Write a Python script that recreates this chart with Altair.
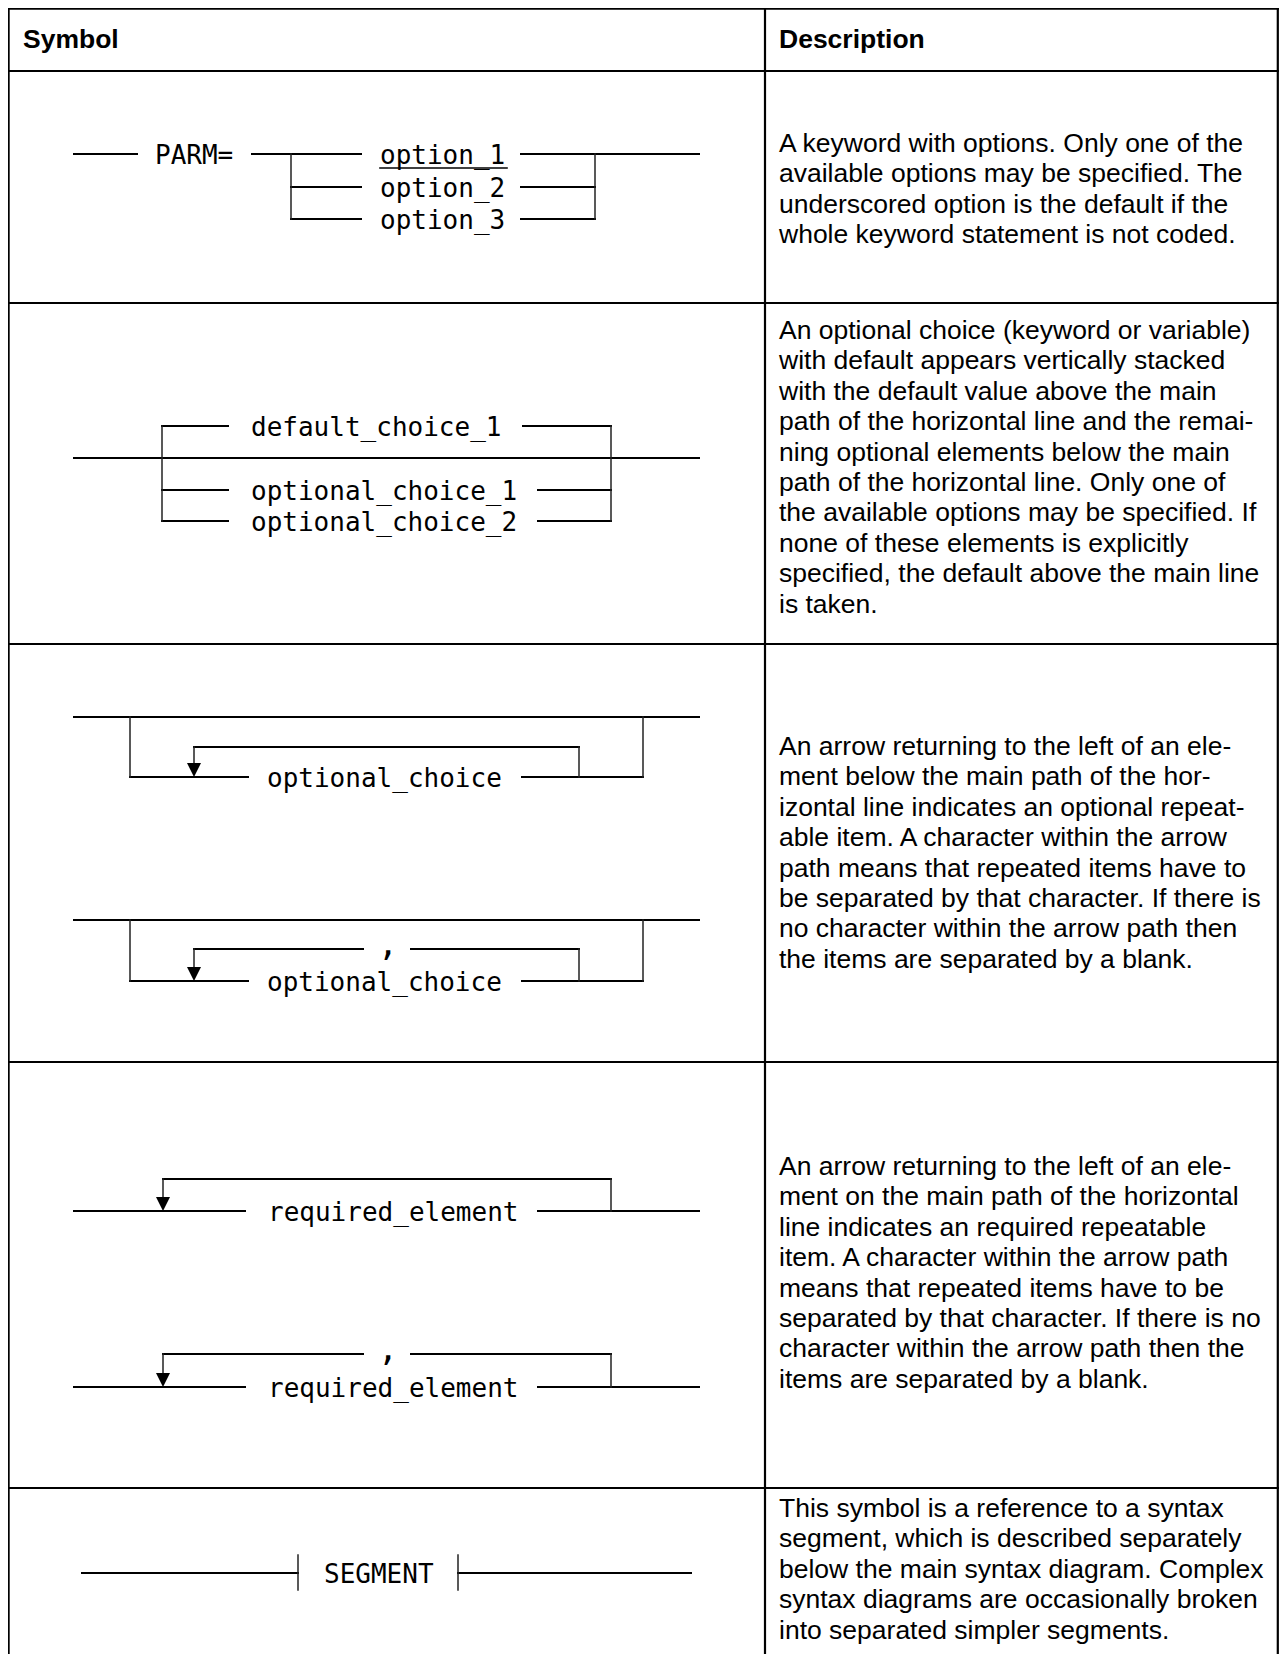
import altair as alt
import pandas as pd

W, H = 1271, 1646

# ---------------- table frame ----------------
TABLE_X = [8.6, 765, 1277.8]        # left border, column divider, right border
TABLE_TOP = 8.6
ROW_LINES = [8.6, 71, 303, 644, 1062, 1488]
HEADERS = [(23, "Symbol"), (779, "Description")]
HEADER_BASELINE = 48

# ---------------- syntax diagram paths ----------------
# horizontal path lines: (x1, x2, y)
PATH_H = [
    # PARM= option_1/2/3
    (74, 137, 154), (252, 361, 154), (291, 361, 187), (291, 361, 219),
    (521, 699, 154), (521, 595, 187), (521, 595, 219),
    # default_choice / optional_choice
    (74, 699, 458), (162, 228, 426), (523, 611, 426),
    (162, 228, 490), (538, 611, 490), (162, 228, 521), (538, 611, 521),
    # optional repeatable
    (74, 699, 717), (130, 248, 777), (522, 643, 777), (194, 579, 747),
    (74, 699, 920), (130, 248, 981), (522, 643, 981), (194, 363, 949), (411, 579, 949),
    # required repeatable
    (74, 245, 1211), (538, 699, 1211), (163, 611, 1179),
    (74, 245, 1387), (538, 699, 1387), (163, 363, 1354), (411, 611, 1354),
    # segment
    (82, 298, 1573), (458, 691, 1573),
]
# vertical connectors: (x, y1, y2)
PATH_V = [
    (291, 154, 219), (595, 154, 219),
    (162, 426, 521), (611, 426, 521),
    (130, 717, 777), (643, 717, 777), (579, 747, 777), (194, 747, 768),
    (130, 920, 981), (643, 920, 981), (579, 949, 981), (194, 949, 972),
    (611, 1179, 1211), (163, 1179, 1202),
    (611, 1354, 1387), (163, 1354, 1378),
    (298, 1555, 1590), (458, 1555, 1590),
]
# arrow tips (pointing down onto the path): (x, y)
ARROWS = [(194, 777), (194, 981), (163, 1211), (163, 1387)]
# underline of default option
UNDERLINE = [(380, 507, 168)]

# diagram keywords: (x, line_y, text)
KEYWORDS = [
    (155, 154, "PARM="), (380, 154, "option_1"), (380, 187, "option_2"), (380, 219, "option_3"),
    (251, 426, "default_choice_1"), (251, 490, "optional_choice_1"), (251, 521, "optional_choice_2"),
    (267, 777, "optional_choice"), (267, 981, "optional_choice"),
    (268, 1211, "required_element"), (268, 1387, "required_element"),
    (324, 1573, "SEGMENT"),
]
SEPARATORS = [(388, 949, ","), (388, 1354, ",")]

# ---------------- descriptions ----------------
DESC_X = 779
DESC_LH = 30.4
DESC_FIRST = [152, 339, 755, 1175, 1517]
DESC = [
    ["A keyword with options. Only one of the",
     "available options may be specified. The",
     "underscored option is the default if the",
     "whole keyword statement is not coded."],
    ["An optional choice (keyword or variable)",
     "with default appears vertically stacked",
     "with the default value above the main",
     "path of the horizontal line and the remai-",
     "ning optional elements below the main",
     "path of the horizontal line. Only one of",
     "the available options may be specified. If",
     "none of these elements is explicitly",
     "specified, the default above the main line",
     "is taken."],
    ["An arrow returning to the left of an ele-",
     "ment below the main path of the hor-",
     "izontal line indicates an optional repeat-",
     "able item. A character within the arrow",
     "path means that repeated items have to",
     "be separated by that character. If there is",
     "no character within the arrow path then",
     "the items are separated by a blank."],
    ["An arrow returning to the left of an ele-",
     "ment on the main path of the horizontal",
     "line indicates an required repeatable",
     "item. A character within the arrow path",
     "means that repeated items have to be",
     "separated by that character. If there is no",
     "character within the arrow path then the",
     "items are separated by a blank."],
    ["This symbol is a reference to a syntax",
     "segment, which is described separately",
     "below the main syntax diagram. Complex",
     "syntax diagrams are occasionally broken",
     "into separated simpler segments."],
]

# ---------------- build frames ----------------
xs = alt.Scale(domain=[8, 8 + W], nice=False, zero=False)
ys = alt.Scale(domain=[8, 8 + H], nice=False, zero=False, reverse=True)
BOTTOM = 8 + H + 4

table_df = pd.DataFrame(
    [dict(x1=TABLE_X[0], x2=TABLE_X[2], y1=y, y2=y) for y in ROW_LINES]
    + [dict(x1=x, x2=x, y1=TABLE_TOP, y2=BOTTOM) for x in TABLE_X]
)
ph_df = pd.DataFrame([dict(x1=a, x2=b, y1=y, y2=y) for a, b, y in PATH_H])
pv_df = pd.DataFrame([dict(x1=x, x2=x, y1=a, y2=b) for x, a, b in PATH_V])
ul_df = pd.DataFrame([dict(x1=a, x2=b, y1=y, y2=y) for a, b, y in UNDERLINE])
arrow_df = pd.DataFrame([dict(x=x, y=y) for x, y in ARROWS])
kw_df = pd.DataFrame([dict(x=x, y=y, t=t) for x, y, t in KEYWORDS])
sep_df = pd.DataFrame([dict(x=x, y=y, t=t) for x, y, t in SEPARATORS])
hdr_df = pd.DataFrame([dict(x=x, y=HEADER_BASELINE, t=t) for x, t in HEADERS])
desc_df = pd.DataFrame([
    dict(x=DESC_X, y=DESC_FIRST[r] + i * DESC_LH, t=line)
    for r, lines in enumerate(DESC) for i, line in enumerate(lines)
])


def rules(df, sw, color):
    return alt.Chart(df).mark_rule(strokeWidth=sw, color=color, strokeCap="square").encode(
        x=alt.X("x1:Q", scale=xs, axis=None), x2="x2:Q",
        y=alt.Y("y1:Q", scale=ys, axis=None), y2="y2:Q",
    )


def texts(df, font, size, weight="normal", align="left", dy=0):
    return alt.Chart(df).mark_text(
        font=font, fontSize=size, fontWeight=weight, align=align,
        baseline="alphabetic", dy=dy, color="black",
    ).encode(
        x=alt.X("x:Q", scale=xs, axis=None),
        y=alt.Y("y:Q", scale=ys, axis=None),
        text="t:N",
    )


MONO = "DejaVu Sans Mono"
SANS = "Liberation Sans, Arial, Helvetica"

arrows = alt.Chart(arrow_df).mark_point(
    shape="M-0.5,-1L0.5,-1L0,0Z", size=784, filled=True, color="black", opacity=1, strokeWidth=0
).encode(
    x=alt.X("x:Q", scale=xs, axis=None),
    y=alt.Y("y:Q", scale=ys, axis=None),
)

chart = alt.layer(
    rules(table_df, 2.2, "black"),
    rules(ph_df, 2, "black"),
    rules(pv_df, 1.5, "#222222"),
    rules(ul_df, 1.6, "black"),
    arrows,
    texts(kw_df, MONO, 26, dy=10),
    texts(sep_df, MONO, 34, align="center", dy=6),
    texts(hdr_df, SANS, 26.5, weight="bold"),
    texts(desc_df, SANS, 26.5),
).properties(
    width=W, height=H, padding=0, background="white",
    autosize=alt.AutoSizeParams(type="none"),
).configure_view(strokeWidth=0)

chart.save("out.html", embed_options={"renderer": "svg", "actions": False})
